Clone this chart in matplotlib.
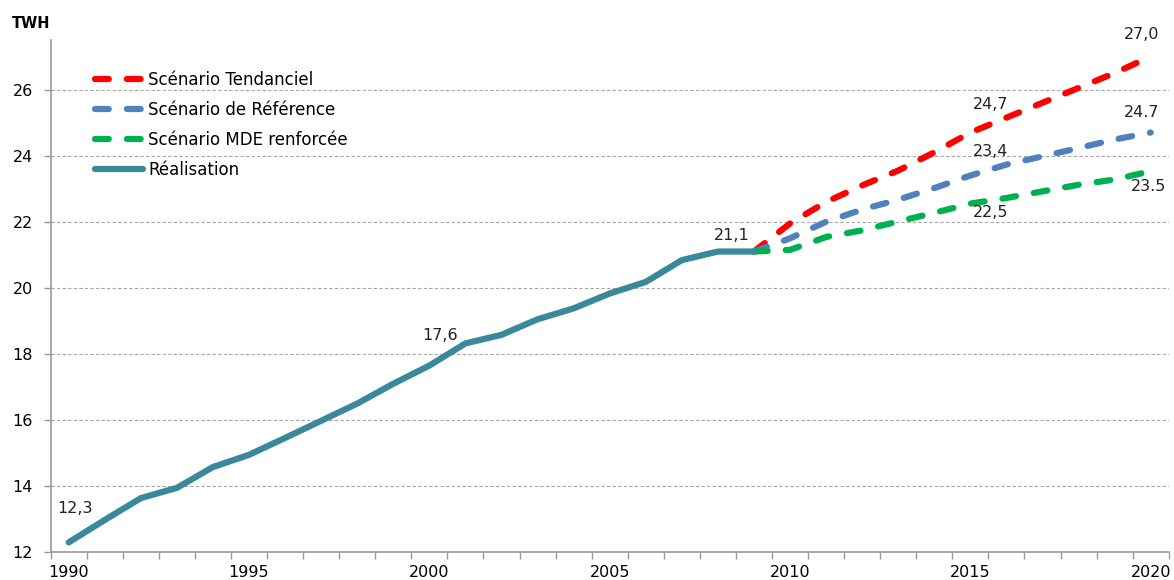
import numpy as np
import matplotlib
matplotlib.use("Agg")
import matplotlib.pyplot as plt
from matplotlib.lines import Line2D

plt.rcParams['font.family'] = ['DejaVu Sans']

# données
years_real = list(range(1990, 2010))
realisation = [12.3, 12.98, 13.64, 13.95, 14.58, 14.95, 15.46, 15.98, 16.5, 17.1,
               17.65, 18.32, 18.58, 19.05, 19.38, 19.83, 20.18, 20.84, 21.1, 21.1]

years_scen = list(range(2009, 2021))
tendanciel = [21.1, 21.95, 22.6, 23.1, 23.55, 24.1, 24.7, 25.15, 25.6, 26.05, 26.5, 27.0]
reference = [21.1, 21.5, 22.0, 22.37, 22.67, 23.02, 23.4, 23.73, 23.98, 24.23, 24.49, 24.7]
mde = [21.1, 21.15, 21.54, 21.74, 22.01, 22.27, 22.55, 22.72, 22.92, 23.12, 23.28, 23.53]

xtick_years = [1990, 1995, 2000, 2005, 2010, 2015, 2020]
yticks = [12, 14, 16, 18, 20, 22, 24, 26]

# étiquettes de valeurs (texte, x, y)
value_labels = [("12,3", 1990.17, 13.34), ("17,6", 2000.3, 18.55), ("21,1", 2008.39, 21.58),
                ("24,7", 2015.55, 25.55), ("27,0", 2019.76, 27.67),
                ("23,4", 2015.55, 24.13), ("24.7", 2019.76, 25.3),
                ("22,5", 2015.55, 22.28), ("23.5", 2019.93, 23.07)]

c_red = "#ff0000"
c_blue = "#4f81bd"
c_green = "#00b050"
c_real = "#3a889b"

fig = plt.figure(figsize=(11.74, 5.8), dpi=100)
ax = fig.add_axes([50.7 / 1174, 1 - 552.3 / 580, (1168.7 - 50.7) / 1174, (552.3 - 40) / 580])

lw = 4.5
dash = (2.2, 2.9)
ax.plot(years_scen, tendanciel, color=c_red, lw=lw, linestyle=(0, dash), dash_capstyle='round', zorder=3)
ax.plot(years_scen, reference, color=c_blue, lw=lw, linestyle=(0, dash), dash_capstyle='round', zorder=3)
ax.plot(years_scen, mde, color=c_green, lw=lw, linestyle=(0, dash), dash_capstyle='round', zorder=3)
ax.plot(years_real, realisation, color=c_real, lw=lw, solid_capstyle='round', solid_joinstyle='round', zorder=4)

for txt, x, y in value_labels:
    ax.text(x, y, txt, ha='center', va='center', fontsize=11.5, color='#222222')

ax.set_xlim(1989.5, 2020.5)
ax.set_ylim(12, 27.5)
ax.set_xticks(xtick_years)
ax.set_xticklabels([str(y) for y in xtick_years])
ax.set_xticks(np.arange(1989.5, 2021, 1), minor=True)
ax.tick_params(axis='x', which='major', length=0, pad=9, labelsize=11.5)
ax.tick_params(axis='x', which='minor', length=5, color='#9a9a9a', width=1)
ax.set_yticks(yticks)
ax.tick_params(axis='y', length=5, color='#9a9a9a', width=1, labelsize=11.5, pad=8)

ax.grid(axis='y', linestyle=(0, (3, 2)), color='#a6a6a6', lw=0.8)
ax.set_axisbelow(True)
for s in ['top', 'right']:
    ax.spines[s].set_visible(False)
for s in ['left', 'bottom']:
    ax.spines[s].set_color('#9a9a9a')
    ax.spines[s].set_linewidth(1.2)

fig.text(12 / 1174, 1 - 23 / 580, "TWH", fontsize=10.5, fontweight='bold', va='center', ha='left')

handles = [Line2D([], [], color=c_red, lw=lw, linestyle=(0, dash), dash_capstyle='round'),
           Line2D([], [], color=c_blue, lw=lw, linestyle=(0, dash), dash_capstyle='round'),
           Line2D([], [], color=c_green, lw=lw, linestyle=(0, dash), dash_capstyle='round'),
           Line2D([], [], color=c_real, lw=lw, solid_capstyle='round')]
labels = ["Scénario Tendanciel", "Scénario de Référence", "Scénario MDE renforcée", "Réalisation"]
ax.legend(handles, labels, loc='upper left', bbox_to_anchor=(88 / 1174, 1 - 64 / 580),
          bbox_transform=fig.transFigure, frameon=False, fontsize=12,
          handlelength=2.9, handletextpad=0.3, labelspacing=0.72, borderaxespad=0)

fig.savefig("out.png", dpi=100)
